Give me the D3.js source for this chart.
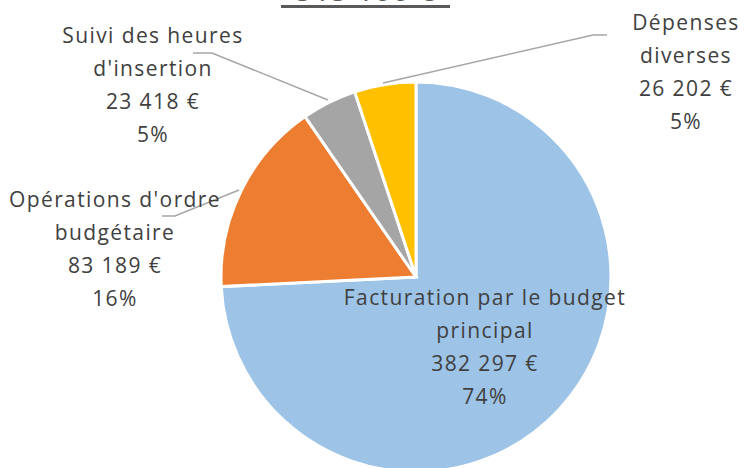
<!DOCTYPE html>
<html><head><meta charset="utf-8">
<script src="https://cdn.jsdelivr.net/npm/d3@7"></script>
<style>html,body{margin:0;padding:0;background:#fff;}svg{display:block;}</style>
</head><body>
<svg id="c" width="745" height="468"></svg>
<script>
const categories = ["Facturation par le budget principal", "Opérations d'ordre budgétaire", "Suivi des heures d'insertion", "Dépenses diverses"];
const values = [382297, 83189, 23418, 26202];
const colors = ["#9DC3E6", "#ED7D31", "#A5A5A5", "#FFC000"];
const labelLines = [
  ["Facturation par le budget", "principal"],
  ["Opérations d'ordre", "budgétaire"],
  ["Suivi des heures", "d'insertion"],
  ["Dépenses", "diverses"]
];
const title = "515 106 €";

const svg = d3.select("#c");
const cx = 416, cy = 277, R = 195;
const total = d3.sum(values);
const pie = d3.pie().sort(null).value(d => d)(values);
const arc = d3.arc().innerRadius(0).outerRadius(R);
const g = svg.append("g").attr("transform", `translate(${cx},${cy})`);
g.selectAll("path").data(pie).join("path")
  .attr("d", arc).attr("fill", (d,i) => colors[i])
  .attr("stroke", "#fff").attr("stroke-width", 3).attr("stroke-linejoin","miter");

// title (clipped at top, as in the reference)
const font = "'Open Sans', Lato, sans-serif";
svg.append("text").attr("x", 365).attr("y", 0.5).attr("text-anchor","middle")
  .attr("font-family", font).attr("font-size", 31).attr("fill","#595959").text(title);
svg.append("rect").attr("x", 281).attr("y", 5).attr("width", 169).attr("height", 3).attr("fill","#595959");

// leader lines
const leaders = [
  null,
  [[162,216],[175,216],[239,190]],
  [[193,53],[212,53],[328,100]],
  [[383,83],[593,35],[607,35]]
];
leaders.forEach(p => { if (p) svg.append("polyline").attr("points", p.map(q=>q.join(",")).join(" "))
  .attr("fill","none").attr("stroke","#A6A6A6").attr("stroke-width",1.5); });

// labels
const labelPos = [[485,305],[115,207],[153,43],[686,30]];
const fmt = v => d3.format(",")(v).replace(/,/g, " ") + " €";
labelLines.forEach((ls, i) => {
  const lines = ls.concat([fmt(values[i]), Math.round(values[i]/total*100) + "%"]);
  const t = svg.append("text").attr("text-anchor","middle").attr("font-family", font)
    .attr("font-size", 21).attr("fill","#404040").attr("letter-spacing", 1.4);
  lines.forEach((l, k) => t.append("tspan").attr("x", labelPos[i][0]).attr("y", labelPos[i][1] + k*33).text(l));
});
</script>
</body></html>
